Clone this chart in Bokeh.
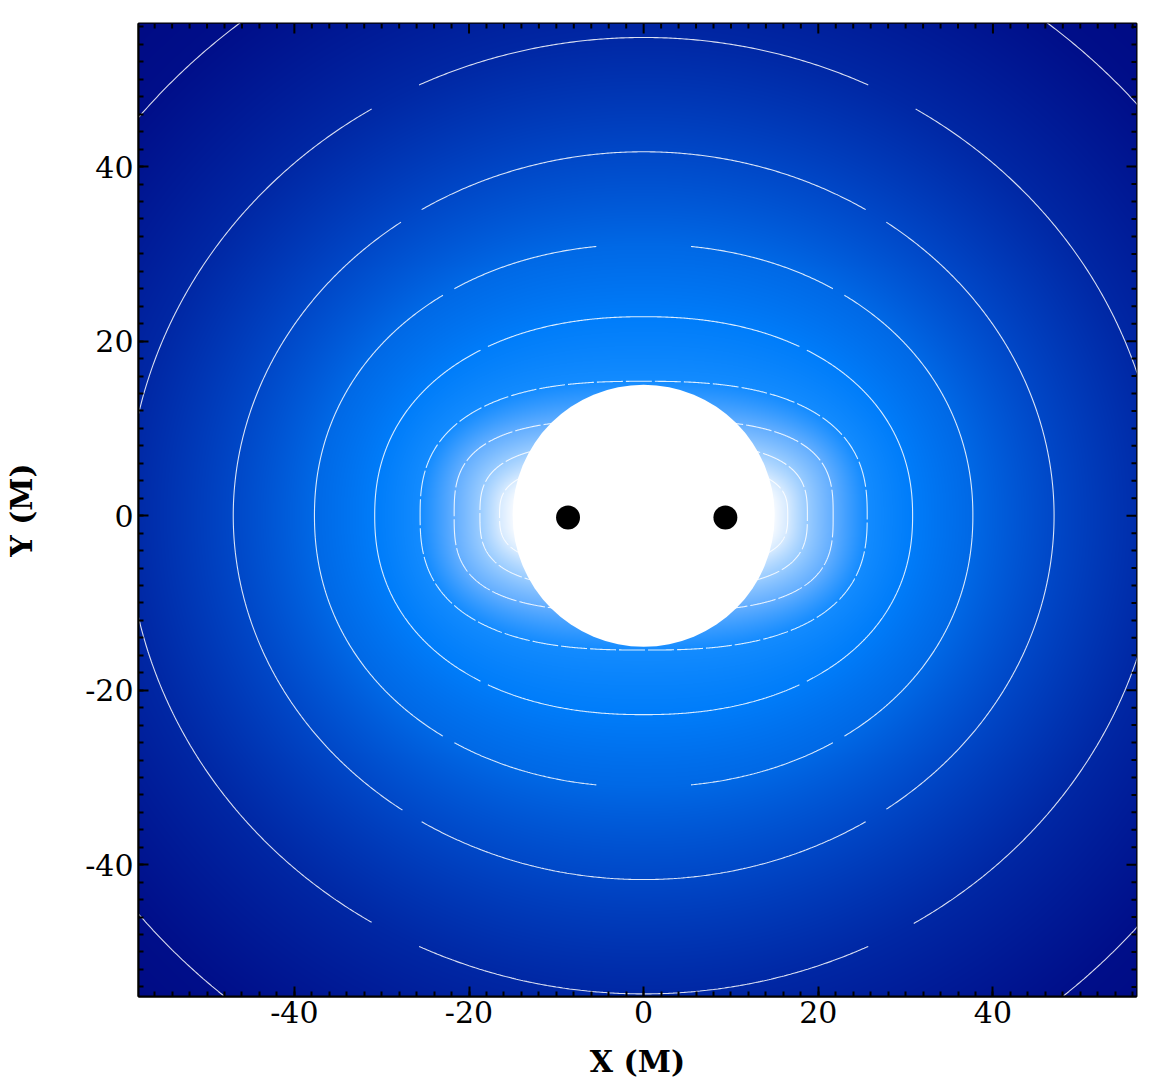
import numpy as np
from bokeh.plotting import figure
from bokeh.models import Range1d, SingleIntervalTicker, LinearAxis
from bokeh.embed import file_html
from bokeh.resources import INLINE

# ---------------- data ----------------
x_limits = [-57.85, 56.44]
y_limits = [-55.1, 56.4]

tick_values = [-40, -20, 0, 20, 40]
tick_labels = ["-40", "-20", "0", "20", "40"]
minor_step = 2

# contours, outer to inner: x-intercept, y-intercept, shape exponent
contour_x = [75.0, 59.2, 47.0, 37.7, 30.8, 25.6, 21.7, 18.75, 16.5]
contour_y = [71.7, 54.8, 41.7, 31.1, 22.8, 15.4, 11.0, 8.4, 6.0]
contour_n = [2.0, 2.0, 2.0, 2.1, 2.2, 2.6, 3.0, 3.0, 3.0]
contour_dashed = [False, False, False, False, False, True, True, True, True]

# gaps in contour lines (index, start/end angle in first quadrant, degrees)
gap_contour = [1, 2, 3, 3, 4]
gap_start = [58.5, 54.0, 53.3, 82.0, 54.0]
gap_end = [64.0, 57.2, 55.3, 90.0, 55.6]

# colour of the field at each contour index
color_t = [-1.0, 0.0, 1.0, 2.0, 3.0, 4.0, 5.0, 6.0, 7.0, 8.0, 9.0]
color_r = [0, 0, 0, 0, 0, 0, 20, 100, 155, 215, 255]
color_g = [5, 15, 40, 72, 105, 125, 140, 175, 205, 235, 255]
color_b = [125, 138, 165, 200, 230, 250, 255, 255, 255, 255, 255]

# central excised disc and the two black holes
disc_radius = 15.0
bh_x = [-8.66, 9.36]
bh_y = [-0.2, -0.2]
bh_radius = 1.37

# ---------------- layout ----------------
W, H = 1148, 1081
B_LEFT, B_RIGHT, B_TOP, B_BOTTOM = 138, 12, 23, 83
frame_w = W - B_LEFT - B_RIGHT
frame_h = H - B_TOP - B_BOTTOM

# ---------------- field image ----------------
nx, ny = frame_w, frame_h
gx = np.linspace(x_limits[0], x_limits[1], nx)
gy = np.linspace(y_limits[0], y_limits[1], ny)
GX, GY = np.meshgrid(gx, gy)
ax_, ay_ = np.abs(GX), np.abs(GY)
L = []
for X, Y, n in zip(contour_x, contour_y, contour_n):
    rho = ((ax_ / X) ** n + (ay_ / Y) ** n) ** (1.0 / n)
    L.append(np.log(rho + 1e-9))
L = np.stack(L)
cnt = (L < 0).sum(axis=0)
k = np.clip(cnt - 1, 0, len(contour_x) - 2)
Lk = np.take_along_axis(L, k[None], 0)[0]
Lk1 = np.take_along_axis(L, (k + 1)[None], 0)[0]
den = Lk1 - Lk
den[np.abs(den) < 1e-9] = 1e-9
t = k + (-Lk) / den
t = np.nan_to_num(t, nan=9.0)
t = np.clip(t, -1.0, 9.0)

r = np.interp(t, color_t, color_r).astype(np.uint32)
g = np.interp(t, color_t, color_g).astype(np.uint32)
b = np.interp(t, color_t, color_b).astype(np.uint32)
img = ((np.uint32(255) << 24) | (b << 16) | (g << 8) | r).astype(np.uint32)

# ---------------- figure ----------------
p = figure(width=W, height=H,
           x_range=Range1d(*x_limits), y_range=Range1d(*y_limits),
           output_backend="svg", toolbar_location=None,
           x_axis_type=None, y_axis_type=None,
           min_border_left=B_LEFT, min_border_right=B_RIGHT,
           min_border_top=B_TOP, min_border_bottom=B_BOTTOM)
p.grid.visible = False
p.outline_line_color = "black"
p.outline_line_width = 2
p.background_fill_color = "white"

p.image_rgba(image=[img], x=x_limits[0], y=y_limits[0],
             dw=x_limits[1] - x_limits[0], dh=y_limits[1] - y_limits[0])

# contour lines
phi = np.linspace(0, 2 * np.pi, 1441)
for i, (X, Y, n) in enumerate(zip(contour_x, contour_y, contour_n)):
    c, s = np.cos(phi), np.sin(phi)
    cx = X * np.sign(c) * np.abs(c) ** (2.0 / n)
    cy = Y * np.sign(s) * np.abs(s) ** (2.0 / n)
    psi = np.degrees(np.arctan2(np.abs(cy) / Y, np.abs(cx) / X))
    mask = np.zeros_like(psi, dtype=bool)
    for gc, g0, g1 in zip(gap_contour, gap_start, gap_end):
        if gc == i:
            mask |= (psi >= g0) & (psi <= g1)
    cx = np.where(mask, np.nan, cx)
    cy = np.where(mask, np.nan, cy)
    if contour_dashed[i]:
        p.line(cx, cy, line_color="white", line_alpha=0.85, line_width=1.1,
               line_dash="26 3")
    else:
        p.line(cx, cy, line_color="white", line_alpha=0.85, line_width=1.1)

p.circle(x=[0], y=[0], radius=disc_radius, fill_color="white", line_color=None)
p.circle(x=bh_x, y=bh_y, radius=bh_radius, fill_color="black", line_color=None)

# bottom and left axes with labels
bottom = LinearAxis(axis_label="X (M)")
left = LinearAxis(axis_label="Y (M)")
p.add_layout(bottom, "below")
p.add_layout(left, "left")
for axis in [bottom, left]:
    axis.ticker = SingleIntervalTicker(interval=20, num_minor_ticks=10)
    axis.major_tick_in = 10
    axis.major_tick_out = 0
    axis.minor_tick_in = 5
    axis.minor_tick_out = 0
    axis.major_tick_line_width = 2
    axis.minor_tick_line_width = 2
    axis.axis_line_width = 2
    axis.axis_line_color = "black"
    axis.major_label_overrides = dict(zip(tick_values, tick_labels))
    axis.major_label_text_font = "DejaVu Serif"
    axis.major_label_text_font_size = "30px"
    axis.major_label_text_color = "black"
    axis.axis_label_text_font = "DejaVu Serif"
    axis.axis_label_text_font_size = "30px"
    axis.axis_label_text_font_style = "bold"
    axis.axis_label_text_color = "black"
bottom.major_label_standoff = 4
bottom.axis_label_standoff = 18
left.major_label_standoff = 5
left.axis_label_standoff = 43

# top and right inward ticks (no labels)
upx = frame_w / (x_limits[1] - x_limits[0])
upy = frame_h / (y_limits[1] - y_limits[0])
minor_x = [v for v in np.arange(-100, 101, minor_step)
           if x_limits[0] < v < x_limits[1] and v not in tick_values]
minor_y = [v for v in np.arange(-100, 101, minor_step)
           if y_limits[0] < v < y_limits[1] and v not in tick_values]
for vals, ln in [(tick_values, 10), (minor_x, 5)]:
    p.segment(x0=vals, x1=vals, y0=[y_limits[1]] * len(vals),
              y1=[y_limits[1] - ln / upy] * len(vals),
              line_color="black", line_width=2)
for vals, ln in [(tick_values, 10), (minor_y, 5)]:
    p.segment(y0=vals, y1=vals, x0=[x_limits[1]] * len(vals),
              x1=[x_limits[1] - ln / upx] * len(vals),
              line_color="black", line_width=2)

open("out.html", "w").write(file_html(p, INLINE))
